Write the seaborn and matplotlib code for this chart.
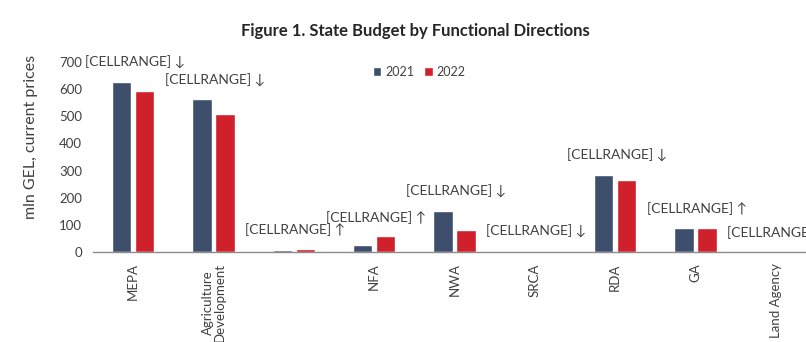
import matplotlib
matplotlib.use("Agg")
import matplotlib.pyplot as plt
import seaborn as sns
import pandas as pd

# Budget by functional direction, mln GEL (current prices)
categories = ["MEPA", "Agriculture\nDevelopment", "", "NFA", "NWA", "SRCA", "RDA", "GA", "Land Agency"]
years = ["2021", "2022"]
values_2021 = [628, 563, 9, 27, 152, 4, 284, 88, 1.5]
values_2022 = [594, 509, 13, 58, 83, 3, 265, 90, 2.5]
yticks = [0, 100, 200, 300, 400, 500, 600, 700]

colors = {"2021": "#3E4F6E", "2022": "#D0202B"}
text_color = "#404040"

df = pd.DataFrame({
    "category": categories * 2,
    "year": [years[0]] * len(categories) + [years[1]] * len(categories),
    "value": values_2021 + values_2022,
})

sns.set_theme(style="white")
plt.rcParams["font.family"] = ["Lato", "DejaVu Sans"]

fig = plt.figure(figsize=(8.06, 3.42), dpi=100)
ax = fig.add_axes([0.1154, 0.263, 0.897, 0.5556])

sns.barplot(data=df, x="category", y="value", hue="year", order=categories,
            hue_order=years, palette=colors, width=0.57, gap=0.16,
            saturation=1, ax=ax, legend=True)

ax.set_xlim(-0.5, len(categories) - 0.5)
ax.set_ylim(0, 700)
ax.set_yticks(yticks)
ax.set_yticklabels([str(t) for t in yticks], fontsize=9.5, color=text_color)
ax.tick_params(axis="y", length=0, pad=8)
ax.tick_params(axis="x", length=0, pad=8)
ax.set_xticks(range(len(categories)))
ax.set_xticklabels(categories, rotation=90, fontsize=9.5, color=text_color,
                   va="top", ha="center", linespacing=1.0)
ax.set_xlabel("")
ax.set_ylabel("mln GEL, current prices", fontsize=11.5, color=text_color)
ax.yaxis.set_label_coords(-0.076, 0.605)

for side in ["top", "right", "left"]:
    ax.spines[side].set_visible(False)
ax.spines["bottom"].set_color("#8C8C8C")
ax.spines["bottom"].set_linewidth(1.0)

# Change labels: arrow shows whether 2022 is above or below 2021
for i, (a, b) in enumerate(zip(values_2021, values_2022)):
    arrow = "\u2191" if b > a else "\u2193"
    ax.annotate(f"[CELLRANGE] {arrow}", xy=(i, max(a, b)), xytext=(1, 9),
                textcoords="offset points", ha="center", va="bottom",
                fontsize=10, color=text_color, annotation_clip=False,
                family=["Lato", "DejaVu Sans"])

leg = ax.legend(loc="upper center", bbox_to_anchor=(0.451, 1.04), ncol=2,
                frameon=False, fontsize=9, handlelength=0.7, handleheight=0.7,
                handletextpad=0.3, columnspacing=0.8)
for t in leg.get_texts():
    t.set_color(text_color)

fig.text(0.515, 0.91, "Figure 1. State Budget by Functional Directions",
         ha="center", va="center", fontsize=12, fontweight="bold", color="#262626")

fig.savefig("out.png", dpi=100)
